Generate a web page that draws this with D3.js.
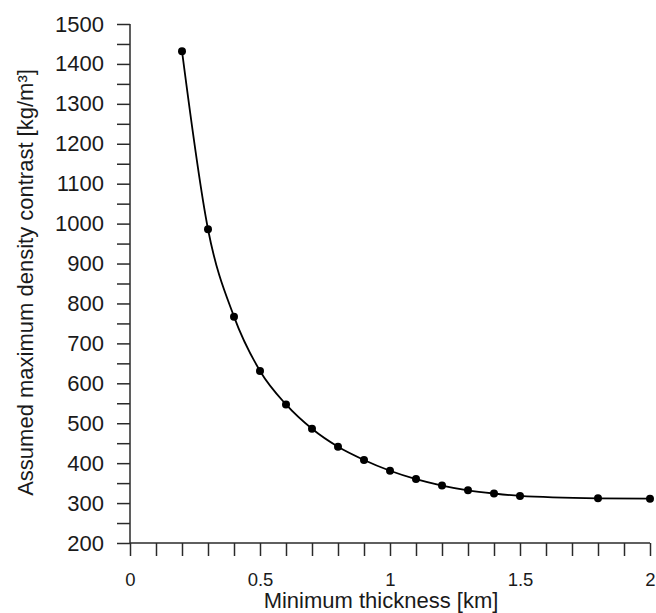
<!DOCTYPE html>
<html>
<head>
<meta charset="utf-8">
<script src="https://cdn.jsdelivr.net/npm/d3@7"></script>
<style>
  body { margin: 0; background: #fff; }
  text { font-family: 'Liberation Sans', Arial, sans-serif; fill: #1a1a1a; }
</style>
</head>
<body>
<svg id="chart" width="656" height="613"></svg>
<script>
// minimum thickness [km]
const thickness = [0.2, 0.3, 0.4, 0.5, 0.6, 0.7, 0.8, 0.9, 1.0, 1.1, 1.2, 1.3, 1.4, 1.5, 1.8, 2.0]
// assumed max density contrast [kg/m3]
const density = [1432, 986, 767, 631, 547, 486, 441, 408, 381, 360, 344, 332, 324, 318, 312, 311]

const xMajor = [0, 0.5, 1, 1.5, 2]
const yMajor = [200, 300, 400, 500, 600, 700, 800, 900, 1000, 1100, 1200, 1300, 1400, 1500]

const svg = d3.select('#chart')
const margin = { top: 24, right: 6, bottom: 70, left: 130 }
const width = +svg.attr('width') - margin.left - margin.right
const height = +svg.attr('height') - margin.top - margin.bottom

const g = svg.append('g').attr('transform', `translate(${margin.left},${margin.top})`)

const x = d3.scaleLinear().domain([0, 2]).range([0, width])
const y = d3.scaleLinear().domain([200, 1500]).range([height, 0])

// x axis - ticks every 0.1, labels on 0.5
const xAxis = d3.axisBottom(x)
  .tickValues(d3.range(0, 21).map(i => i / 10))
  .tickSize(13)
  .tickFormat(d => xMajor.some(v => Math.abs(v - d) < 1e-9) ? d3.format('~g')(d) : '')

const gx = g.append('g')
  .attr('transform', `translate(0,${height})`)
  .call(xAxis)
gx.selectAll('text').attr('font-size', 18.5).attr('y', 29.5)
gx.selectAll('line').attr('stroke', '#2a2a2a').attr('stroke-width', 1.5)
gx.select('.domain').attr('stroke', '#2a2a2a').attr('stroke-width', 1.5)
  .attr('d', `M0,0H${width}`)

// y axis - ticks every 50, labels on 100
const yAxis = d3.axisLeft(y)
  .tickValues(d3.range(200, 1501, 50))
  .tickSize(13)
  .tickFormat(d => yMajor.includes(d) ? d : '')

const gy = g.append('g').call(yAxis)
gy.selectAll('text').attr('font-size', 22).attr('x', -26)
gy.selectAll('line').attr('stroke', '#2a2a2a').attr('stroke-width', 1.5)
gy.select('.domain').attr('stroke', '#2a2a2a').attr('stroke-width', 1.5)
  .attr('d', `M0,0V${height}`)

// axis titles
svg.append('text')
  .attr('x', 381)
  .attr('y', 608)
  .attr('text-anchor', 'middle')
  .attr('font-size', 22)
  .text('Minimum thickness [km]')

svg.append('text')
  .attr('transform', `translate(33,${margin.top + height / 2 - 1}) rotate(-90)`)
  .attr('text-anchor', 'middle')
  .attr('font-size', 22)
  .text('Assumed maximum density contrast [kg/m³]')

// the curve
const pts = thickness.map((t, i) => ({ t: t, v: density[i] }))

const line = d3.line()
  .x(d => x(d.t))
  .y(d => y(d.v))
  .curve(d3.curveMonotoneX)

g.append('path')
  .datum(pts)
  .attr('d', line)
  .attr('fill', 'none')
  .attr('stroke', '#000')
  .attr('stroke-width', 1.8)

g.selectAll('.dot')
  .data(pts)
  .enter()
  .append('circle')
  .attr('class', 'dot')
  .attr('cx', d => x(d.t))
  .attr('cy', d => y(d.v))
  .attr('r', 4)
  .attr('fill', '#000')
</script>
</body>
</html>
